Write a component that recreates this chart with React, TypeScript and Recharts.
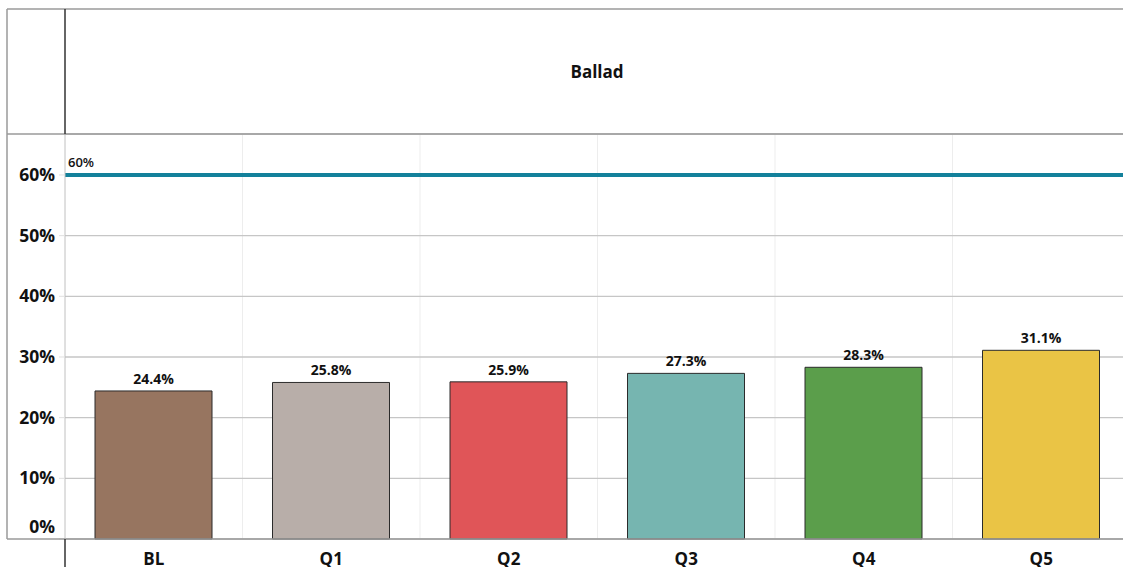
import { BarChart, Bar, Cell, CartesianGrid, LabelList, ReferenceLine, XAxis, YAxis } from "recharts";

const categories = ["BL", "Q1", "Q2", "Q3", "Q4", "Q5"];
const values = [24.4, 25.8, 25.9, 27.3, 28.3, 31.1];
const barColors = ["#977560", "#B8AEA9", "#E05558", "#76B5B0", "#5B9E4B", "#EAC445"];
const yTicks = [0, 10, 20, 30, 40, 50, 60];
const target = 60;
const title = "Ballad";

const data = categories.map((name, i) => ({ name, value: values[i] }));

const FONT = "'Open Sans', 'Noto Sans', sans-serif";

function YTick({ x, y, payload }: any) {
  const dy = payload.value === 0 ? -12 : 0;
  return (
    <text x={x - 2} y={y + dy} dy={6} textAnchor="end" fontFamily={FONT} fontWeight={700} fontSize={17.5} fill="#111">
      {payload.value}%
    </text>
  );
}

function XTick({ x, y, payload }: any) {
  return (
    <text x={x} y={y} dy={18} textAnchor="middle" fontFamily={FONT} fontWeight={700} fontSize={17} fill="#111">
      {payload.value}
    </text>
  );
}

function TargetLabel({ viewBox }: any) {
  return (
    <text x={viewBox.x + 3} y={viewBox.y - 8} fontFamily={FONT} fontWeight={600} fontSize={13} fill="#111">
      {`${target}%`}
    </text>
  );
}

export default function App() {
  return (
    <div style={{ position: "fixed", left: 0, top: 0, width: 1123, height: 567, overflow: "hidden", background: "#fff" }}>
      <BarChart width={1135} height={567} data={data} margin={{ top: 134, right: 5, bottom: 0, left: 0 }}>
        <CartesianGrid
          stroke="#EDEDED"
          strokeWidth={1}
          horizontal={false}
          verticalCoordinatesGenerator={({ offset }: any) =>
            categories.slice(1).map((_, i) => offset.left + ((i + 1) * offset.width) / categories.length)
          }
        />
        <CartesianGrid stroke="#C6C6C6" strokeWidth={1.3} vertical={false} />
        <XAxis
          dataKey="name"
          height={28}
          axisLine={{ stroke: "#9A9A9A", strokeWidth: 1.5 }}
          tickLine={false}
          tick={<XTick />}
          interval={0}
        />
        <YAxis
          width={65}
          domain={[0, 66.75]}
          ticks={yTicks}
          axisLine={{ stroke: "#C0C0C0", strokeWidth: 1 }}
          tickLine={{ stroke: "#E0E0E0" }}
          tickSize={6}
          tick={<YTick />}
          interval={0}
        />
        <Bar dataKey="value" barSize={117} stroke="#2B2B2B" strokeWidth={1} isAnimationActive={false}>
          {data.map((d, i) => (
            <Cell key={d.name} fill={barColors[i]} />
          ))}
          <LabelList
            dataKey="value"
            position="top"
            offset={7}
            formatter={(v: any) => `${Number(v).toFixed(1)}%`}
            style={{ fontFamily: FONT, fontWeight: 700, fontSize: 14, fill: "#111" }}
          />
        </Bar>
        <ReferenceLine
          y={target}
          stroke="#13819B"
          strokeWidth={4}
          ifOverflow="extendDomain"
          label={<TargetLabel />}
        />
      </BarChart>
      <svg width={1123} height={567} style={{ position: "absolute", left: 0, top: 0, pointerEvents: "none" }}>
        <line x1={7} y1={9} x2={1123} y2={9} stroke="#9A9A9A" strokeWidth={1.5} />
        <line x1={7} y1={9} x2={7} y2={539} stroke="#9A9A9A" strokeWidth={1.5} />
        <line x1={7} y1={134} x2={1123} y2={134} stroke="#9A9A9A" strokeWidth={1.5} />
        <line x1={7} y1={539} x2={65} y2={539} stroke="#9A9A9A" strokeWidth={1.5} />
        <line x1={65} y1={9} x2={65} y2={134} stroke="#333" strokeWidth={1.5} />
        <line x1={65} y1={539} x2={65} y2={567} stroke="#333" strokeWidth={1.5} />
        <text x={597} y={72} dy={6} textAnchor="middle" fontFamily={FONT} fontWeight={700} fontSize={17} fill="#111">
          {title}
        </text>
      </svg>
    </div>
  );
}
